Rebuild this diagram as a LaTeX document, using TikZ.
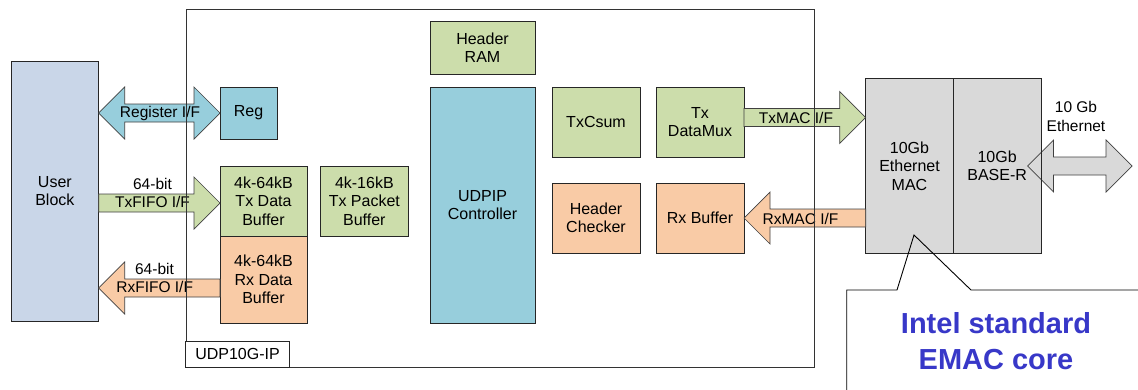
\documentclass[tikz,border=0pt]{standalone}
\usepackage{fontspec}
\setmainfont{Liberation Sans}
\usepackage{xcolor}
\usetikzlibrary{calc}

\definecolor{userblue}{HTML}{C9D6E8}
\definecolor{regblue}{HTML}{97CEDC}
\definecolor{txgreen}{HTML}{CCDDAB}
\definecolor{rxorange}{HTML}{F9CBA6}
\definecolor{macgray}{HTML}{D9D9D9}
\definecolor{emacblue}{HTML}{3838C8}

\begin{document}
\begin{tikzpicture}[x=1pt,y=-1pt,
    blk/.style={draw=black!85, line width=0.9pt, inner sep=0pt, outer sep=0pt, align=center, font=\fontsize{16}{18.5}\selectfont},
    lbl/.style={inner sep=0pt, align=center, font=\fontsize{15.5}{18.5}\selectfont},
    fat/.style={draw=black!75, line width=0.7pt}]
    \useasboundingbox (0,0) rectangle (1138,389);

    % Blocks
    \node[blk, fill=userblue, minimum width=87.7pt, minimum height=260pt] (user) at (54.85,191) {User\\Block};
    \node[blk, fill=regblue, minimum width=57pt, minimum height=52pt] (reg) at (248.5,113) {Reg};
    \node[blk, fill=txgreen, minimum width=87pt, minimum height=70pt] (txbuf) at (263.5,201) {4k-64kB\\Tx Data\\Buffer};
    \node[blk, fill=rxorange, minimum width=87pt, minimum height=87pt] (rxbuf) at (263.5,279.5) {4k-64kB\\Rx Data\\Buffer};
    \node[blk, fill=txgreen, minimum width=87.3pt, minimum height=70pt] (txpkt) at (364.35,201) {4k-16kB\\Tx Packet\\Buffer};
    \node[blk, fill=txgreen, minimum width=105pt, minimum height=52.3pt] (hdram) at (482.5,47.85) {Header\\RAM};
    \node[blk, fill=regblue, minimum width=105pt, minimum height=236pt] (udpip) at (482.5,205) {UDPIP\\Controller};
    \node[blk, fill=txgreen, minimum width=88pt, minimum height=70pt] (txcsum) at (596,122) {TxCsum};
    \node[blk, fill=txgreen, minimum width=88pt, minimum height=70pt] (txmux) at (700,122) {Tx\\DataMux};
    \node[blk, fill=rxorange, minimum width=88pt, minimum height=70pt] (hdchk) at (596,218) {Header\\Checker};
    \node[blk, fill=rxorange, minimum width=88pt, minimum height=70pt] (rxbuffer) at (700,218) {Rx Buffer};
    \node[blk, fill=macgray, minimum width=87.6pt, minimum height=174.6pt] (mac) at (909.5,166) {10Gb\\Ethernet\\MAC};
    \node[blk, fill=macgray, minimum width=87.7pt, minimum height=174.6pt] (baser) at (997.15,166) {10Gb\\BASE-R};

    % Arrow ends
    \coordinate (txfifotip) at (txbuf.west |- 0,203);
    \coordinate (rxfifotip) at (user.east |- 0,288);
    \coordinate (rxfifobase) at (rxbuf.west |- 0,288);
    \coordinate (txmacbase) at (txmux.east |- 0,117.5);
    \coordinate (txmactip) at (mac.west |- 0,117.5);
    \coordinate (rxmacbase) at (mac.west |- rxbuffer.east);
    \coordinate (ethleft) at ($(baser.east)+(-13.5,0)$);
    \coordinate (ethright) at (1132,166);

    % Register I/F
    \draw[fat, fill=regblue] (user.east |- reg.west) -- ++(26,-26) -- ++(0,17) -- ($(reg.west)+(-26,-9)$) -- ++(0,-17) -- (reg.west) -- ++(-26,26) -- ++(0,-17) -- ($(user.east |- reg.west)+(26,9)$) -- ++(0,17) -- cycle;
    % TxFIFO I/F
    \draw[fat, fill=txgreen] ($(user.east |- txfifotip)+(0,-9)$) -- ($(txfifotip)+(-26,-9)$) -- ++(0,-17) -- (txfifotip) -- ++(-26,26) -- ++(0,-17) -- ($(user.east |- txfifotip)+(0,9)$) -- cycle;
    % RxFIFO I/F
    \draw[fat, fill=rxorange] ($(rxfifobase)+(0,-9)$) -- ($(rxfifotip)+(26,-9)$) -- ++(0,-17) -- (rxfifotip) -- ++(26,26) -- ++(0,-17) -- ($(rxfifobase)+(0,9)$) -- cycle;
    % TxMAC I/F
    \draw[fat, fill=txgreen] ($(txmacbase)+(0,-9)$) -- ($(txmactip)+(-26,-9)$) -- ++(0,-17) -- (txmactip) -- ++(-26,26) -- ++(0,-17) -- ($(txmacbase)+(0,9)$) -- cycle;
    % RxMAC I/F
    \draw[fat, fill=rxorange] ($(rxmacbase)+(0,-9)$) -- ($(rxbuffer.east)+(26,-9)$) -- ++(0,-17) -- (rxbuffer.east) -- ++(26,26) -- ++(0,-17) -- ($(rxmacbase)+(0,9)$) -- cycle;
    % 10 Gb Ethernet
    \draw[fat, fill=macgray] (ethleft) -- ++(26,-26) -- ++(0,17) -- ($(ethright)+(-26,-9)$) -- ++(0,-17) -- (ethright) -- ++(-26,26) -- ++(0,-17) -- ($(ethleft)+(26,9)$) -- ++(0,17) -- cycle;
    \draw[line width=0.9pt, draw=black!85] (baser.north east) -- (baser.south east);

    % Arrow labels
    \node[lbl] (regif) at (160,113) {Register I/F};
    \node[lbl] (txwidth) at (152.5,184.3) {64-bit};
    \node[lbl] (txfifoif) at (152.5,202.3) {TxFIFO I/F};
    \node[lbl] (rxwidth) at (154.5,268.7) {64-bit};
    \node[lbl] (rxfifoif) at (154.7,286.7) {RxFIFO I/F};
    \node[lbl] (txmacif) at (796,117.7) {TxMAC I/F};
    \node[lbl] (rxmacif) at (800.5,218.7) {RxMAC I/F};
    \node[lbl] (ethlbl) at (1076,116.5) {10 Gb\\Ethernet};

    % IP core outline
    \node[draw=black!80, line width=0.9pt, inner sep=0pt, minimum width=628pt, minimum height=358pt] (udp10g) at (500,188) {};
    \node[blk, fill=white, minimum width=104pt, minimum height=26pt, anchor=south west] (ipname) at (udp10g.south west) {UDP10G-IP};

    % Callout
    \coordinate (emactip) at (914,235);
    \draw[line width=0.9pt] (846.7,395) -- (846.7,290) -- (897,290) -- (emactip) -- (971,290) -- (1145,290);
    \node[font=\bfseries\fontsize{29}{35.5}\selectfont, text=emacblue, align=center, inner sep=0pt] (emac) at (996,341) {Intel standard\\EMAC core};
\end{tikzpicture}
\end{document}
